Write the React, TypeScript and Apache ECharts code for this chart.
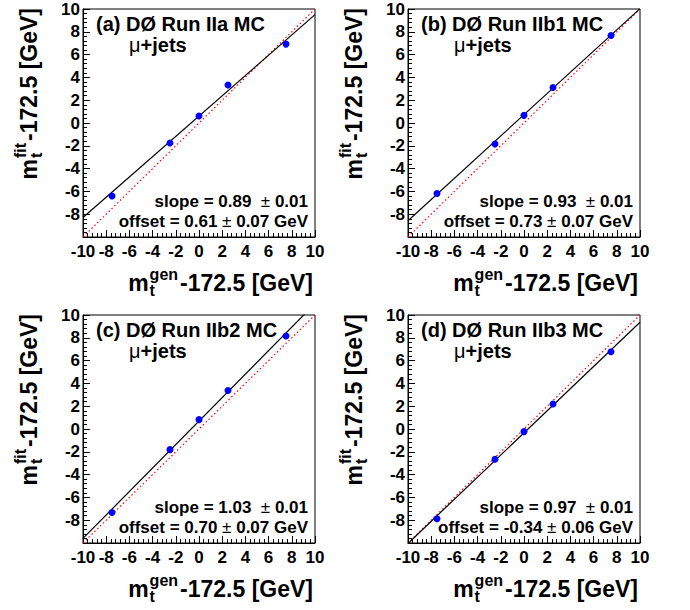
import React, { useEffect, useRef } from "react";
import * as echarts from "echarts";

// ---- data ----
const genMass = [-7.5, -2.5, 0, 2.5, 7.5];
const fitA = [-6.4, -1.76, 0.62, 3.34, 6.92];
const fitB = [-6.19, -1.85, 0.67, 3.11, 7.68];
const fitC = [-7.32, -1.81, 0.82, 3.38, 8.16];
const fitD = [-7.87, -2.66, -0.23, 2.19, 6.78];
const panelLabels = ["(a) DØ Run IIa MC", "(b) DØ Run IIb1 MC", "(c) DØ Run IIb2 MC", "(d) DØ Run IIb3 MC"];
const slopes = ["0.89", "0.93", "1.03", "0.97"];
const slopeErrs = ["0.01", "0.01", "0.01", "0.01"];
const offsets = ["0.61", "0.73", "0.70", "-0.34"];
const offsetErrs = ["0.07", "0.07", "0.07", "0.06"];
const axisMin = -10;
const axisMax = 10;
const axisStep = 2;

const FONT = '"Liberation Sans", Arial, Helvetica, sans-serif';
const PL = [83, 408];
const PT = [9, 315];
const PW = 232;
const PH = 228;

let ctx: CanvasRenderingContext2D | null = null;
function tw(text: string, size: number, weight = "bold") {
  if (!ctx) ctx = document.createElement("canvas").getContext("2d");
  ctx!.font = `${weight} ${size}px ${FONT}`;
  return ctx!.measureText(text).width;
}

function txt(x: number, y: number, text: string, size: number, align = "left", weight = "bold") {
  return {
    type: "text",
    x,
    y,
    style: {
      text,
      fontSize: size,
      fontWeight: weight,
      fontFamily: FONT,
      fill: "#000",
      align,
      textAlign: align,
      verticalAlign: "middle",
      textVerticalAlign: "middle",
    },
  };
}

type Piece = { t: string; size: number; weight?: string };
function row(pieces: Piece[], x: number, y: number, align: "left" | "right") {
  const widths = pieces.map((p) => tw(p.t, p.size, p.weight || "bold"));
  const total = widths.reduce((a, b) => a + b, 0);
  let cx = align === "left" ? x : x - total;
  const out: any[] = [];
  pieces.forEach((p, k) => {
    const t = p.t.replace(/^\s+|\s+$/g, "");
    const lead = tw(p.t.length - p.t.trimStart().length > 0 ? p.t.slice(0, p.t.length - p.t.trimStart().length) : "", p.size, p.weight || "bold");
    out.push(txt(cx + lead, y, t, p.size, "left", p.weight || "bold"));
    cx += widths[k];
  });
  return out;
}

const TS = 23; // title size
const TSS = 16; // sup/sub size
function titleGroup(sup: string) {
  const mW = tw("m", TS);
  const supW = tw(sup, TSS);
  const subW = tw("t", TSS);
  const rest = "-172.5 [GeV]";
  const restX = mW + 1 + Math.max(supW, subW) + 2;
  const total = restX + tw(rest, TS);
  const children = [
    txt(0, 0, "m", TS),
    txt(mW + 1, -9, sup, TSS),
    txt(mW + 1, 7, "t", TSS),
    txt(restX, 0, rest, TS),
  ];
  return { children, total };
}

function buildOption() {
  const fits = [fitA, fitB, fitC, fitD];
  const grid: any[] = [];
  const xAxis: any[] = [];
  const yAxis: any[] = [];
  const series: any[] = [];
  const graphic: any[] = [];
  for (let i = 0; i < 4; i++) {
    const col = i % 2;
    const r = Math.floor(i / 2);
    const left = PL[col];
    const top = PT[r];
    grid.push({ left, top, width: PW, height: PH, show: true, borderColor: "#000", borderWidth: 1, backgroundColor: "#fff" });
    const common = {
      type: "value",
      gridIndex: i,
      min: axisMin,
      max: axisMax,
      interval: axisStep,
      axisLine: { show: true, onZero: false, lineStyle: { color: "#000", width: 1 } },
      axisTick: { show: true, inside: true, length: 7, lineStyle: { color: "#000", width: 1 } },
      minorTick: { show: true, splitNumber: 5, length: 4, lineStyle: { color: "#000", width: 1 } },
      splitLine: { show: false },
      minorSplitLine: { show: false },
    };
    xAxis.push({
      ...common,
      axisLabel: { fontSize: 17, fontWeight: "bold", fontFamily: FONT, color: "#000", margin: 6 },
    });
    yAxis.push({
      ...common,
      axisLabel: {
        fontSize: 17,
        fontWeight: "bold",
        fontFamily: FONT,
        color: "#000",
        margin: 3,
        formatter: (v: number) => (v === axisMin ? "" : String(v)),
      },
    });
    const s = parseFloat(slopes[i]);
    const o = parseFloat(offsets[i]);
    series.push({
      type: "line",
      xAxisIndex: i,
      yAxisIndex: i,
      data: [
        [axisMin, axisMin],
        [axisMax, axisMax],
      ],
      symbol: "none",
      clip: true,
      lineStyle: { color: "#ff0000", width: 1.2, type: [1.5, 2.5] },
      z: 2,
    });
    series.push({
      type: "line",
      xAxisIndex: i,
      yAxisIndex: i,
      data: [
        [axisMin, s * axisMin + o],
        [axisMax, s * axisMax + o],
      ],
      symbol: "none",
      clip: true,
      lineStyle: { color: "#000", width: 1.2 },
      z: 3,
    });
    series.push({
      type: "scatter",
      xAxisIndex: i,
      yAxisIndex: i,
      data: genMass.map((x, j) => [x, fits[i][j]]),
      symbol: "circle",
      symbolSize: 7,
      itemStyle: { color: "#0000ff", opacity: 1 },
      z: 4,
    });

    const right = left + PW;
    graphic.push(txt(left + 13, top + 15, panelLabels[i], 20));
    graphic.push(
      ...row(
        [
          { t: "μ", size: 20, weight: "normal" },
          { t: "+jets", size: 20 },
        ],
        left + 46,
        top + 36,
        "left"
      )
    );
    graphic.push(
      ...row(
        [
          { t: `slope = ${slopes[i]}  `, size: 17 },
          { t: "±", size: 17, weight: "normal" },
          { t: ` ${slopeErrs[i]}`, size: 17 },
        ],
        right - 7,
        top + 192,
        "right"
      )
    );
    graphic.push(
      ...row(
        [
          { t: `offset = ${offsets[i]} `, size: 17 },
          { t: "±", size: 17, weight: "normal" },
          { t: ` ${offsetErrs[i]} GeV`, size: 17 },
        ],
        right - 7,
        top + 212,
        "right"
      )
    );
    const xt = titleGroup("gen");
    graphic.push({ type: "group", x: right - 2 - xt.total, y: top + 274, children: xt.children });
    const yt = titleGroup("fit");
    graphic.push({ type: "group", x: left - 54, y: top - 1 + yt.total, rotation: Math.PI / 2, children: yt.children });
  }
  return {
    animation: false,
    backgroundColor: "#fff",
    grid,
    xAxis,
    yAxis,
    series,
    graphic: { elements: graphic },
  };
}

export default function App() {
  const ref = useRef<HTMLDivElement>(null);
  useEffect(() => {
    const chart = echarts.init(ref.current!, undefined, { renderer: "svg" });
    chart.setOption(buildOption() as any);
    return () => chart.dispose();
  }, []);
  return (
    <div
      ref={ref}
      style={{ position: "fixed", left: 0, top: 0, width: 690, height: 610, background: "#fff" }}
    />
  );
}
